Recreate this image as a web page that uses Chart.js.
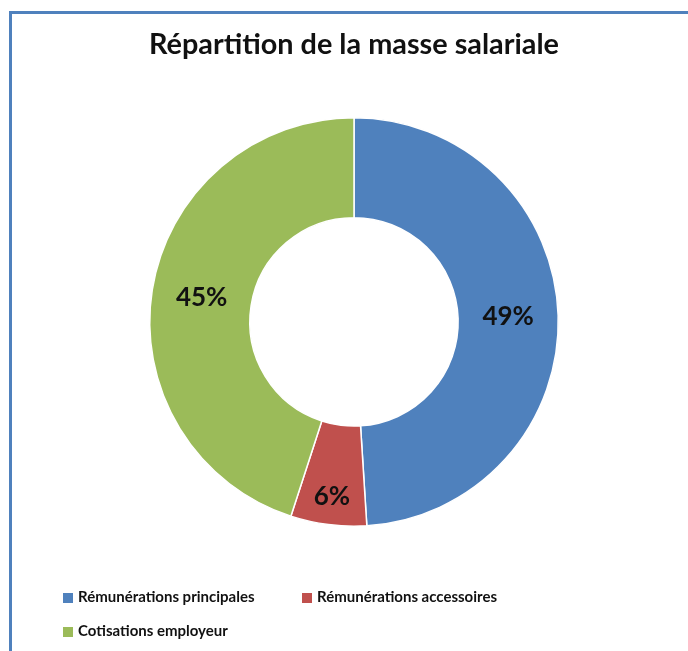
<!DOCTYPE html>
<html>
<head>
<meta charset="utf-8">
<script src="https://cdn.jsdelivr.net/npm/chart.js"></script>
<style>
  html, body { margin: 0; padding: 0; background: #fff; }
  body { width: 688px; height: 651px; position: relative; overflow: hidden; }
  #frame {
    position: absolute; left: 9px; top: 11px; width: 700px; height: 660px;
    border: 3px solid #4f81bd; box-sizing: border-box;
  }
  #chart { position: absolute; left: 0; top: 0; }
  .legend-item {
    position: absolute; font-family: Lato, sans-serif; font-weight: bold;
    font-size: 15px; color: #111; white-space: nowrap; line-height: 18px;
  }
  .legend-box {
    display: inline-block; width: 10px; height: 10px; margin-right: 5px;
    vertical-align: -1px;
  }
</style>
</head>
<body>
<div id="frame"></div>
<canvas id="chart" width="688" height="651"></canvas>
<div id="legend"></div>
<script>
  var title = 'Répartition de la masse salariale';
  var categories = ['Rémunérations principales', 'Rémunérations accessoires', 'Cotisations employeur'];
  var shares = [49, 6, 45];
  var colors = ['#4f81bd', '#c0504d', '#9bbb59'];

  // where each label sits across the ring (0 = inner edge, 1 = outer edge)
  var labelDepth = [0.5, 0.72, 0.5];

  var sliceLabels = {
    id: 'sliceLabels',
    afterDatasetsDraw: function(chart) {
      var ctx = chart.ctx;
      var meta = chart.getDatasetMeta(0);
      ctx.save();
      ctx.font = 'bold 26px Lato, sans-serif';
      ctx.fillStyle = '#111';
      ctx.textAlign = 'center';
      ctx.textBaseline = 'middle';
      meta.data.forEach(function(arc, i) {
        var p = arc.getProps(['x', 'y', 'startAngle', 'endAngle', 'innerRadius', 'outerRadius'], true);
        var a = (p.startAngle + p.endAngle) / 2;
        var r = p.innerRadius + (p.outerRadius - p.innerRadius) * labelDepth[i];
        ctx.fillText(shares[i] + '%', p.x + Math.cos(a) * r, p.y + Math.sin(a) * r);
      });
      ctx.restore();
    }
  };

  new Chart(document.getElementById('chart'), {
    type: 'doughnut',
    data: {
      labels: categories,
      datasets: [{
        data: shares,
        backgroundColor: colors,
        borderColor: '#ffffff',
        borderWidth: 1.5
      }]
    },
    options: {
      responsive: false,
      animation: false,
      cutout: '51%',
      layout: { padding: { left: 149, right: 129, top: 0, bottom: 124 } },
      plugins: {
        legend: { display: false },
        tooltip: { enabled: false },
        title: {
          display: true,
          text: title,
          color: '#111',
          font: { family: 'Lato, sans-serif', size: 29, weight: 'bold', lineHeight: 1.2 },
          padding: { top: 27, bottom: 55 }
        }
      }
    },
    plugins: [sliceLabels]
  });

  // legend laid out like the office chart: two columns, wrapping
  var legendSpots = [[63, 587], [302, 587], [63, 621]];
  var legend = document.getElementById('legend');
  categories.forEach(function(name, i) {
    var item = document.createElement('div');
    item.className = 'legend-item';
    item.style.left = legendSpots[i][0] + 'px';
    item.style.top = legendSpots[i][1] + 'px';
    item.innerHTML = '<span class="legend-box" style="background:' + colors[i] + '"></span>' + name;
    legend.appendChild(item);
  });
</script>
</body>
</html>
